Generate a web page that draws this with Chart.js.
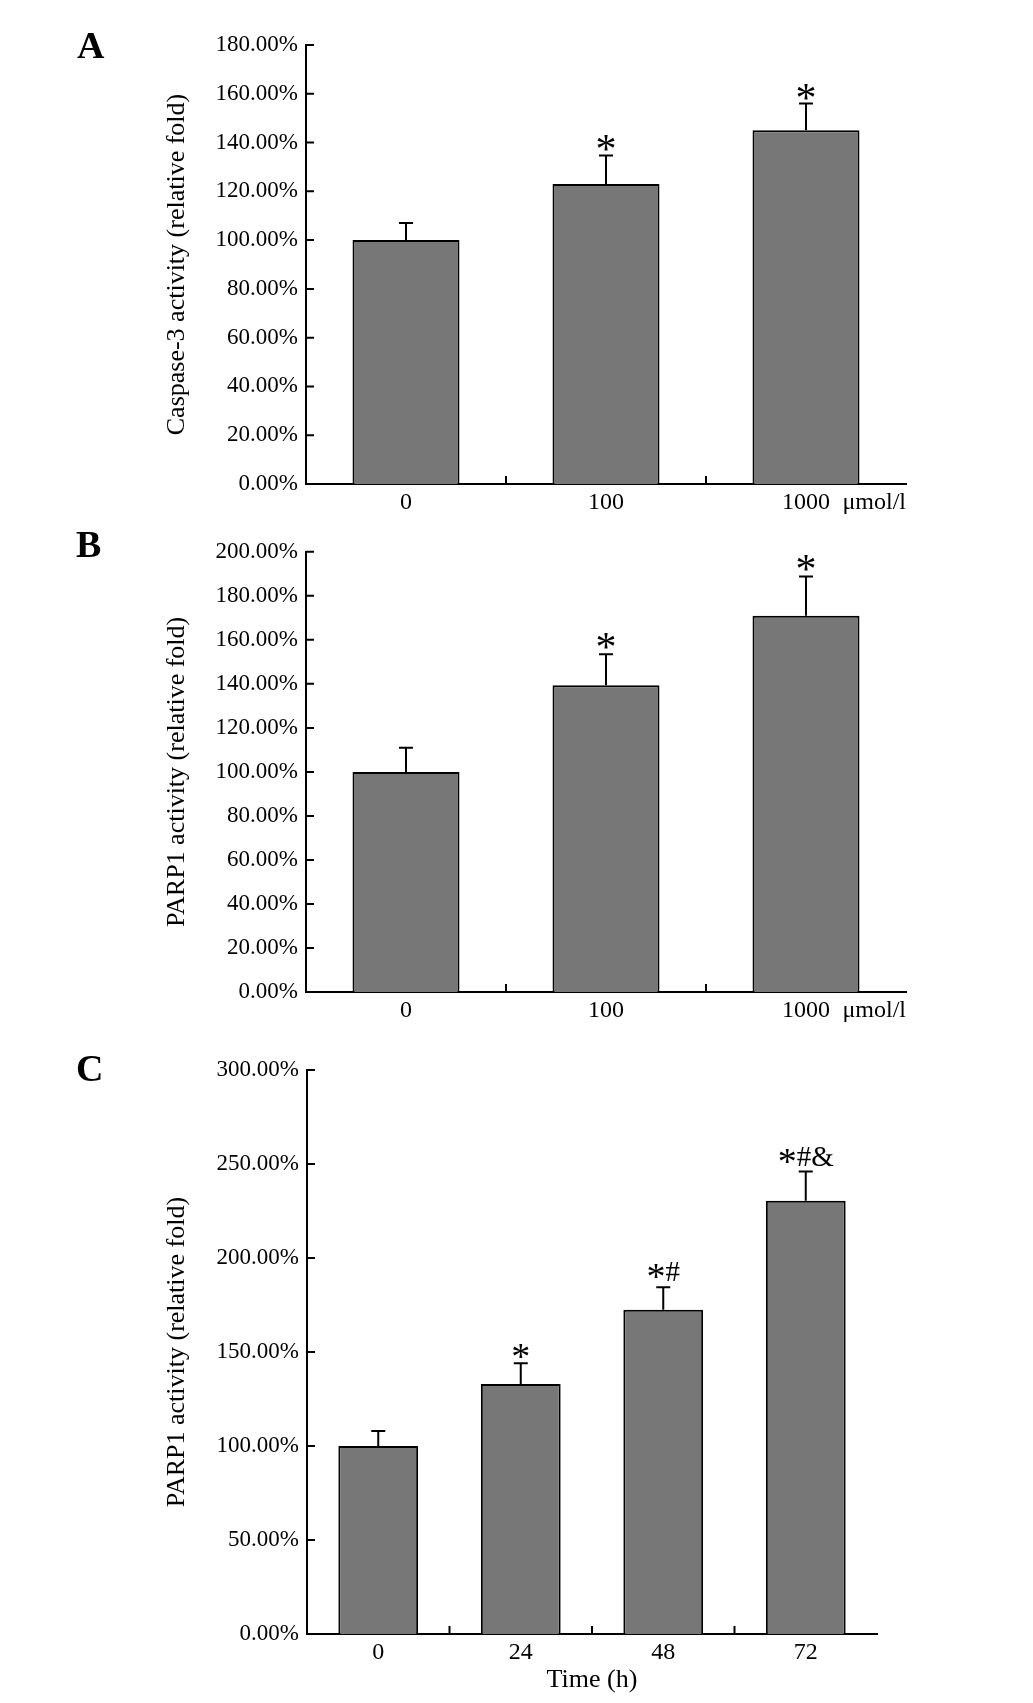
<!DOCTYPE html>
<html lang="en">
  <head>
    <meta charset="UTF-8" />
    <title>Caspase-3 / PARP1 activity</title>
    <script src="https://cdn.jsdelivr.net/npm/chart.js"></script>
    <style>
      body { margin: 0; background: #fff; }
      #page { position: relative; width: 1033px; height: 1703px; }
      canvas { position: absolute; left: 0; }
    </style>
  </head>
  <body>
    <div id="page">
      <canvas id="graficoA" width="1033" height="530" style="top: 0px"></canvas>
      <canvas id="graficoB" width="1033" height="510" style="top: 530px"></canvas>
      <canvas id="graficoC" width="1033" height="663" style="top: 1040px"></canvas>
    </div>

    <script>
      // dados (% relativo ao controle)
      const doseLabels = ["0", "100", "1000"]
      const timeLabels = ["0", "24", "48", "72"]

      const caspaseValues = [100, 123, 145]
      const caspaseErrors = [7, 11.7, 11]
      const caspaseMarks = ["", "*", "*"]
      const caspaseTicks = [0, 20, 40, 60, 80, 100, 120, 140, 160, 180]

      const parpDoseValues = [100, 139.4, 171]
      const parpDoseErrors = [11, 14, 17.8]
      const parpDoseMarks = ["", "*", "*"]
      const parpDoseTicks = [0, 20, 40, 60, 80, 100, 120, 140, 160, 180, 200]

      const parpTimeValues = [100, 133, 172.5, 230.5]
      const parpTimeErrors = [8, 11, 12, 15.5]
      const parpTimeMarks = ["", "*", "*#", "*#&"]
      const parpTimeTicks = [0, 50, 100, 150, 200, 250, 300]

      const SERIF = "'Liberation Serif', 'Times New Roman', serif"
      Chart.defaults.font.family = SERIF
      Chart.defaults.color = "#000"

      // desenha um texto de marca (*, #, &) centrado em cx, com a base em baseY
      function desenharMarca(ctx, text, cx, baseY, opts) {
        const chars = text.split("")
        const widths = chars.map(function (ch) {
          ctx.font = ch === "*" ? opts.starFont : opts.markFont
          return ctx.measureText(ch).width
        })
        let x = cx - widths.reduce(function (a, b) { return a + b }, 0) / 2
        ctx.font = opts.markFont
        const hashAsc = ctx.measureText("#").actualBoundingBoxAscent
        for (let i = 0; i < chars.length; i++) {
          const ch = chars[i]
          if (ch === "*") {
            ctx.font = opts.starFont
            const m = ctx.measureText("*")
            let y
            if (chars.length === 1) {
              y = baseY - m.actualBoundingBoxDescent
            } else {
              const c = baseY - hashAsc / 2
              y = c + (m.actualBoundingBoxAscent - m.actualBoundingBoxDescent) / 2
            }
            ctx.fillText("*", x, y)
          } else {
            ctx.font = opts.markFont
            ctx.fillText(ch, x, baseY)
          }
          x += widths[i]
        }
      }

      // plugin: barras de erro, marcas, ticks para dentro, letra do painel e unidade
      const extrasPlugin = {
        id: "extras",
        afterDatasetsDraw: function (chart, args, opts) {
          const ctx = chart.ctx
          const x = chart.scales.x
          const y = chart.scales.y
          const area = chart.chartArea
          const meta = chart.getDatasetMeta(0)
          const values = chart.data.datasets[0].data

          ctx.save()
          ctx.strokeStyle = "#000"
          ctx.fillStyle = "#000"
          ctx.lineWidth = 2

          // barras de erro
          meta.data.forEach(function (bar, i) {
            const topo = y.getPixelForValue(values[i] + opts.errors[i])
            ctx.beginPath()
            ctx.moveTo(bar.x, bar.y)
            ctx.lineTo(bar.x, topo)
            ctx.moveTo(bar.x - 7, topo)
            ctx.lineTo(bar.x + 7, topo)
            ctx.stroke()

            if (opts.marks[i]) {
              const gap = opts.marks[i].length === 1 ? opts.gapSingle : opts.gapMulti
              ctx.textAlign = "left"
              ctx.textBaseline = "alphabetic"
              desenharMarca(ctx, opts.marks[i], bar.x, topo - gap, opts)
            }
          })

          // ticks do eixo y, para dentro
          ctx.beginPath()
          for (let i = 0; i < y.ticks.length; i++) {
            const py = y.getPixelForTick(i)
            ctx.moveTo(area.left, py)
            ctx.lineTo(area.left + 8, py)
          }
          // ticks do eixo x entre as categorias
          for (let i = 0; i < x.ticks.length - 1; i++) {
            const px = (x.getPixelForTick(i) + x.getPixelForTick(i + 1)) / 2
            ctx.moveTo(px, area.bottom)
            ctx.lineTo(px, area.bottom - 8)
          }
          ctx.stroke()

          // unidade no fim do eixo x
          if (opts.unit) {
            ctx.font = "24px " + SERIF
            ctx.textAlign = "right"
            ctx.textBaseline = "middle"
            ctx.fillText(opts.unit, area.right, area.bottom + 4 + 14.4)
          }

          // letra do painel
          ctx.font = "bold 38px " + SERIF
          ctx.textAlign = "left"
          ctx.textBaseline = "alphabetic"
          ctx.fillText(opts.letter, opts.letterX, opts.letterY)
          ctx.restore()
        },
      }

      function criarGrafico(id, cfg) {
        const ctx = document.getElementById(id).getContext("2d")
        return new Chart(ctx, {
          type: "bar",
          data: {
            labels: cfg.labels,
            datasets: [
              {
                data: cfg.values,
                backgroundColor: "#777777",
                borderColor: "#000",
                borderWidth: 2,
                barPercentage: cfg.barPct,
                categoryPercentage: 1,
              },
            ],
          },
          options: {
            responsive: false,
            animation: false,
            layout: { padding: cfg.padding },
            scales: {
              x: {
                grid: { display: false, drawTicks: false },
                border: { color: "#000", width: 2 },
                ticks: { font: { size: 24 }, padding: 4, color: "#000" },
                title: cfg.xTitle
                  ? { display: true, text: cfg.xTitle, font: { size: 26 }, padding: { top: 0, bottom: 7 } }
                  : { display: false },
                afterFit: function (scale) { scale.height = cfg.xHeight },
              },
              y: {
                min: cfg.ticks[0],
                max: cfg.ticks[cfg.ticks.length - 1],
                grid: { display: false, drawTicks: false },
                border: { color: "#000", width: 2 },
                ticks: {
                  font: { size: 23 },
                  padding: 8,
                  color: "#000",
                  callback: function (v) { return v.toFixed(2) + "%" },
                },
                afterBuildTicks: function (scale) {
                  scale.ticks = cfg.ticks.map(function (v) { return { value: v } })
                },
                title: { display: true, text: cfg.yTitle, font: { size: 26 }, padding: { top: 12, bottom: 0 } },
                afterFit: function (scale) { scale.width = cfg.yWidth },
              },
            },
            plugins: {
              legend: { display: false },
              tooltip: { enabled: false },
              extras: {
                errors: cfg.errors,
                marks: cfg.marks,
                starFont: cfg.starFont,
                markFont: cfg.markFont,
                gapSingle: cfg.gapSingle,
                gapMulti: cfg.gapMulti,
                unit: cfg.unit,
                letter: cfg.letter,
                letterX: cfg.letterX,
                letterY: cfg.letterY,
              },
            },
          },
          plugins: [extrasPlugin],
        })
      }

      // A - caspase-3 por dose
      criarGrafico("graficoA", {
        labels: doseLabels,
        values: caspaseValues,
        errors: caspaseErrors,
        marks: caspaseMarks,
        ticks: caspaseTicks,
        yTitle: "Caspase-3 activity (relative fold)",
        unit: "\u03bcmol/l",
        padding: { top: 45, left: 150, right: 127, bottom: 0 },
        yWidth: 156,
        xHeight: 46,
        barPct: 0.535,
        starFont: "42px " + SERIF,
        markFont: "30px " + SERIF,
        gapSingle: 4,
        gapMulti: 6,
        letter: "A",
        letterX: 77,
        letterY: 58,
      })

      // B - PARP1 por dose
      criarGrafico("graficoB", {
        labels: doseLabels,
        values: parpDoseValues,
        errors: parpDoseErrors,
        marks: parpDoseMarks,
        ticks: parpDoseTicks,
        yTitle: "PARP1 activity (relative fold)",
        unit: "\u03bcmol/l",
        padding: { top: 20, left: 150, right: 127, bottom: 0 },
        yWidth: 156,
        xHeight: 48,
        barPct: 0.535,
        starFont: "42px " + SERIF,
        markFont: "30px " + SERIF,
        gapSingle: 5,
        gapMulti: 6,
        letter: "B",
        letterX: 76,
        letterY: 557 - 530,
      })

      // C - PARP1 por tempo
      criarGrafico("graficoC", {
        labels: timeLabels,
        values: parpTimeValues,
        errors: parpTimeErrors,
        marks: parpTimeMarks,
        ticks: parpTimeTicks,
        yTitle: "PARP1 activity (relative fold)",
        xTitle: "Time (h)",
        padding: { top: 30, left: 150, right: 156, bottom: 0 },
        yWidth: 157,
        xHeight: 69,
        barPct: 0.56,
        starFont: "38px " + SERIF,
        markFont: "29px " + SERIF,
        gapSingle: 4,
        gapMulti: 6,
        letter: "C",
        letterX: 76,
        letterY: 1081 - 1040,
      })
    </script>
  </body>
</html>
